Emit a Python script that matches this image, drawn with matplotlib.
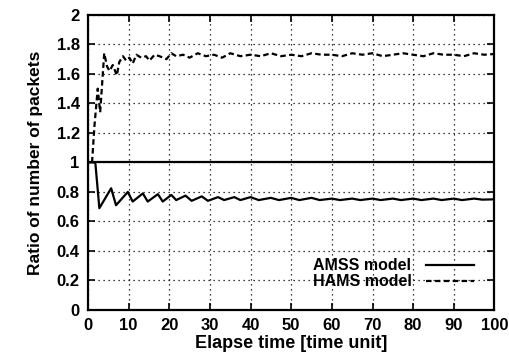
import matplotlib
matplotlib.use("Agg")
import matplotlib.pyplot as plt

# values
amss_t = [0, 1.8, 2.8, 5.7, 6.9, 9.8, 11, 13.5, 14.7, 17.2,
          18.4, 20.5, 21.7, 24, 25.5, 28, 29.5, 32, 33.5, 36,
          37.5, 40, 42, 45, 47, 50, 52, 55, 57, 60,
          62, 65, 67, 70, 72, 75, 77, 80, 82, 85,
          87, 90, 92, 95, 97, 100]
amss_v = [1.0, 1.0, 0.69, 0.825, 0.71, 0.80, 0.735, 0.79, 0.735, 0.785,
          0.735, 0.78, 0.745, 0.775, 0.74, 0.77, 0.74, 0.765, 0.745, 0.765,
          0.745, 0.765, 0.745, 0.76, 0.745, 0.76, 0.745, 0.76, 0.745, 0.755,
          0.745, 0.755, 0.745, 0.755, 0.745, 0.755, 0.745, 0.755, 0.745, 0.755,
          0.745, 0.755, 0.745, 0.755, 0.748, 0.75]

hams_t = [1.0, 1.6, 2.4, 3.0, 4.0, 4.7, 5.3, 6.1, 7.1, 7.7,
          8.6, 9.4, 10.2, 11.0, 11.9, 13.1, 14.3, 15.1, 16.4, 17.6,
          19.3, 20.5, 21.7, 23.4, 25, 27, 29, 31, 33, 35,
          37.5, 40, 42.5, 45, 47.5, 50, 52.5, 55, 57.5, 60,
          62.5, 65, 67.5, 70, 72.5, 75, 77.5, 80, 82.5, 85,
          87.5, 90, 92.5, 95, 97.5, 100]
hams_v = [1.0, 1.25, 1.50, 1.34, 1.74, 1.65, 1.62, 1.66, 1.59, 1.68,
          1.72, 1.69, 1.71, 1.67, 1.73, 1.71, 1.72, 1.69, 1.73, 1.72,
          1.70, 1.74, 1.72, 1.73, 1.71, 1.74, 1.72, 1.73, 1.71, 1.74,
          1.72, 1.73, 1.72, 1.74, 1.72, 1.73, 1.72, 1.74, 1.73, 1.73,
          1.72, 1.74, 1.73, 1.74, 1.72, 1.73, 1.74, 1.73, 1.72, 1.74,
          1.73, 1.73, 1.72, 1.74, 1.73, 1.735]

ref_level = 1.0

x_ticks = list(range(0, 101, 10))
y_ticks = [0, 0.2, 0.4, 0.6, 0.8, 1, 1.2, 1.4, 1.6, 1.8, 2]
y_labels = ["0", "0.2", "0.4", "0.6", "0.8", "1", "1.2", "1.4", "1.6", "1.8", "2"]

plt.rcParams['font.family'] = ['Liberation Sans', 'DejaVu Sans']
plt.rcParams['font.weight'] = 'bold'
plt.rcParams['font.size'] = 12

fig = plt.figure(figsize=(5.1, 3.63), dpi=100)
ax = fig.add_axes([0.1725, 0.146, 0.797, 0.813])

ax.axhline(ref_level, color='black', lw=1.6)
ax.plot(amss_t, amss_v, color='black', lw=1.6, label='AMSS model')
ax.plot(hams_t, hams_v, color='black', lw=1.6, dashes=(2.5, 1.5), label='HAMS model')

ax.set_xlim(0, 100)
ax.set_ylim(0, 2)
ax.set_xticks(x_ticks)
ax.set_yticks(y_ticks)
ax.set_yticklabels(y_labels)
ax.grid(True, color='black', ls=(0, (1, 3)), lw=0.9)
ax.tick_params(direction='in', top=True, right=True, length=5, width=1.2, pad=6)
for s in ax.spines.values():
    s.set_linewidth(1.6)

ax.set_xlabel('Elapse time [time unit]', fontweight='bold', fontsize=13, labelpad=1)
ax.set_ylabel('Ratio of number of packets', fontweight='bold', fontsize=12.5, labelpad=10)

leg = ax.legend(loc='lower right', frameon=False, markerfirst=False, fontsize=11.5,
                handlelength=3.0, borderaxespad=0.9, labelspacing=0.05,
                handletextpad=0.9)

fig.savefig('out.png', dpi=100)
